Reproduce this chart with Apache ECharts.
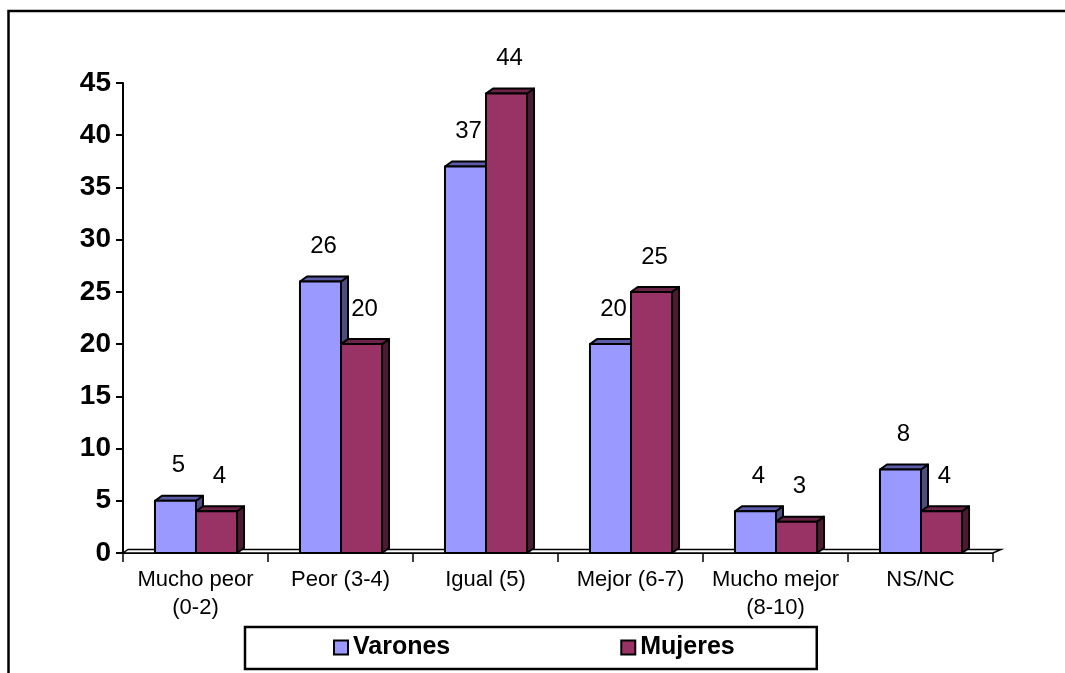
<!DOCTYPE html>
<html>
<head>
<meta charset="utf-8">
<title>Varones / Mujeres</title>
<script src="https://cdn.jsdelivr.net/npm/echarts@6/dist/echarts.min.js"></script>
<style>
  html, body { margin: 0; padding: 0; background: #fff; }
  #chart { width: 1065px; height: 673px; }
</style>
</head>
<body>
<div id="chart"></div>
<script>
// Category labels and values per group
const categories = ['Mucho peor\n(0-2)', 'Peor (3-4)', 'Igual (5)', 'Mejor (6-7)', 'Mucho mejor\n(8-10)', 'NS/NC'];
const varones = [5, 26, 37, 20, 4, 8];
const mujeres = [4, 20, 44, 25, 3, 4];
const yTicks = { min: 0, max: 45, interval: 5 };

const FONT = '"Liberation Sans", Arial, sans-serif';
const DEPTH_X = 7;   // 3D depth of the columns
const DEPTH_Y = 5;

// Draws one pseudo-3D column (front, top and side faces) plus its value label
function columnRenderer(isLeft, front, top, side) {
  return function (params, api) {
    const cat = api.value(0);
    const val = api.value(1);
    const base = api.coord([cat, 0]);
    const tip = api.coord([cat, val]);
    const bw = api.size([1, 0])[0] * 0.283;
    const x0 = isLeft ? base[0] - bw + 0.5 : base[0] + 0.5;
    const x1 = x0 + bw;
    const y0 = base[1];
    const y1 = tip[1];
    const stroke = { stroke: '#000', lineWidth: 2, lineJoin: 'round' };
    return {
      type: 'group',
      children: [
        { type: 'polygon', shape: { points: [[x1, y0], [x1, y1], [x1 + DEPTH_X, y1 - DEPTH_Y], [x1 + DEPTH_X, y0 - DEPTH_Y]] },
          style: Object.assign({ fill: side }, stroke) },
        { type: 'polygon', shape: { points: [[x0, y1], [x0 + DEPTH_X, y1 - DEPTH_Y], [x1 + DEPTH_X, y1 - DEPTH_Y], [x1, y1]] },
          style: Object.assign({ fill: top }, stroke) },
        { type: 'rect', shape: { x: x0, y: y1, width: bw, height: y0 - y1 },
          style: Object.assign({ fill: front }, stroke) },
        { type: 'text', style: { text: String(val), x: (x0 + x1) / 2 + 3, y: y1 - 35,
          align: 'center', verticalAlign: 'middle', fontSize: 24, fontFamily: FONT, fill: '#000' } }
      ]
    };
  };
}

// Thin floor plate under the columns
function floorRenderer(params, api) {
  const cs = params.coordSys;
  const y = api.coord([0, 0])[1];
  const l = cs.x, r = cs.x + cs.width;
  return {
    type: 'polygon',
    shape: { points: [[l, y], [l + 5, y - 3.5], [r + 8, y - 3.5], [r, y]] },
    style: { fill: '#fff', stroke: '#000', lineWidth: 1.5 }
  };
}

const chart = echarts.init(document.getElementById('chart'), null, { renderer: 'canvas' });

chart.setOption({
  backgroundColor: '#fff',
  animation: false,
  graphic: [{
    type: 'rect', z: 100, silent: true,
    shape: { x: 8.5, y: 11, width: 1200, height: 800 },
    style: { fill: 'none', stroke: '#000', lineWidth: 2.5 }
  }],
  grid: { left: 123, right: 72, top: 83, bottom: 120 },
  legend: {
    data: ['Varones', 'Mujeres'],
    left: 245, top: 627,
    padding: [8, 82, 9, 88],
    itemGap: 170,
    itemWidth: 14, itemHeight: 14,
    icon: 'rect',
    itemStyle: { borderColor: '#000', borderWidth: 2 },
    borderColor: '#000', borderWidth: 2.5,
    textStyle: { fontSize: 25, fontWeight: 'bold', fontFamily: FONT, color: '#000' }
  },
  xAxis: {
    type: 'category',
    data: categories,
    axisLine: { show: true, lineStyle: { color: '#000', width: 2 } },
    axisTick: { show: true, alignWithLabel: false, length: 9, lineStyle: { color: '#000', width: 1.5 } },
    axisLabel: { interval: 0, margin: 13, fontSize: 22, lineHeight: 28, fontFamily: FONT, color: '#000' },
    splitLine: { show: false }
  },
  yAxis: {
    type: 'value',
    min: yTicks.min, max: yTicks.max, interval: yTicks.interval,
    axisLine: { show: true, lineStyle: { color: '#000', width: 2 } },
    axisTick: { show: true, length: 7, lineStyle: { color: '#000', width: 2 } },
    axisLabel: { margin: 12, fontSize: 28, fontWeight: 'bold', fontFamily: FONT, color: '#000' },
    splitLine: { show: false }
  },
  series: [
    {
      name: 'floor', type: 'custom', z: 1, silent: true,
      renderItem: floorRenderer,
      data: [[0, 0]],
      encode: { x: 0, y: 1 }
    },
    {
      name: 'Varones', type: 'custom', z: 2,
      itemStyle: { color: '#9999FF' },
      renderItem: columnRenderer(true, '#9999FF', '#5C5CA8', '#4D4D80'),
      data: varones.map((v, i) => [i, v]),
      encode: { x: 0, y: 1 }
    },
    {
      name: 'Mujeres', type: 'custom', z: 3,
      itemStyle: { color: '#993366' },
      renderItem: columnRenderer(false, '#993366', '#6B2347', '#4D1A33'),
      data: mujeres.map((v, i) => [i, v]),
      encode: { x: 0, y: 1 }
    }
  ]
});
</script>
</body>
</html>
